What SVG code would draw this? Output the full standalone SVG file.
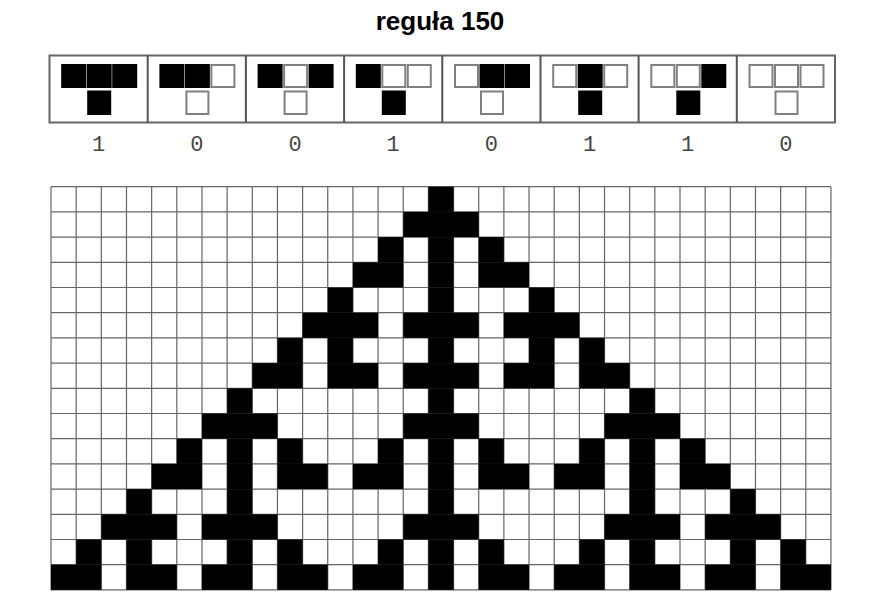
<svg xmlns="http://www.w3.org/2000/svg" width="886" height="604" viewBox="0 0 886 604">
<style>
.title{font-family:"Liberation Sans",Arial,sans-serif;font-weight:bold;font-size:26px;fill:#000}
.dig{font-family:"Liberation Mono","Courier New",monospace;font-size:22px;fill:#444;text-anchor:middle}
.b{fill:#000}
.w{fill:#fff;stroke:#808080;stroke-width:2}
.frame{fill:#fff;stroke:#666;stroke-width:2}
.div{stroke:#555;stroke-width:2}
.grid{fill:none;stroke:#666;stroke-width:1.2}
.cell{fill:#000}
</style>
<rect width="886" height="604" fill="#fff"/>
<text class="title" x="440" y="30" text-anchor="middle">reguła 150</text>

<g id="rules">
<rect class="frame" x="49.5" y="55.5" width="785.5" height="67"/>
<path class="div" d="M147.7 55.5V122.5M245.9 55.5V122.5M344.1 55.5V122.5M442.3 55.5V122.5M540.5 55.5V122.5M638.6 55.5V122.5M736.8 55.5V122.5"/>
<g id="p0" transform="translate(49.5 0)">
<rect class="b" x="11.7" y="64" width="25" height="24"/><rect class="b" x="37.2" y="64" width="25" height="24"/><rect class="b" x="62.7" y="64" width="25" height="24"/>
<rect class="b" x="37.7" y="90.5" width="24" height="24.5"/>
</g>
<g id="p1" transform="translate(147.7 0)">
<rect class="b" x="11.7" y="64" width="25" height="24"/><rect class="b" x="37.2" y="64" width="25" height="24"/><rect class="w" x="63.7" y="65" width="23" height="22"/>
<rect class="w" x="38.7" y="91.5" width="22" height="22.5"/>
</g>
<g id="p2" transform="translate(245.9 0)">
<rect class="b" x="11.7" y="64" width="25" height="24"/><rect class="w" x="38.2" y="65" width="23" height="22"/><rect class="b" x="62.7" y="64" width="25" height="24"/>
<rect class="w" x="38.7" y="91.5" width="22" height="22.5"/>
</g>
<g id="p3" transform="translate(344.1 0)">
<rect class="b" x="11.7" y="64" width="25" height="24"/><rect class="w" x="38.2" y="65" width="23" height="22"/><rect class="w" x="63.7" y="65" width="23" height="22"/>
<rect class="b" x="37.7" y="90.5" width="24" height="24.5"/>
</g>
<g id="p4" transform="translate(442.3 0)">
<rect class="w" x="12.7" y="65" width="23" height="22"/><rect class="b" x="37.2" y="64" width="25" height="24"/><rect class="b" x="62.7" y="64" width="25" height="24"/>
<rect class="w" x="38.7" y="91.5" width="22" height="22.5"/>
</g>
<g id="p5" transform="translate(540.5 0)">
<rect class="w" x="12.7" y="65" width="23" height="22"/><rect class="b" x="37.2" y="64" width="25" height="24"/><rect class="w" x="63.7" y="65" width="23" height="22"/>
<rect class="b" x="37.7" y="90.5" width="24" height="24.5"/>
</g>
<g id="p6" transform="translate(638.6 0)">
<rect class="w" x="12.7" y="65" width="23" height="22"/><rect class="w" x="38.2" y="65" width="23" height="22"/><rect class="b" x="62.7" y="64" width="25" height="24"/>
<rect class="b" x="37.7" y="90.5" width="24" height="24.5"/>
</g>
<g id="p7" transform="translate(736.8 0)">
<rect class="w" x="12.7" y="65" width="23" height="22"/><rect class="w" x="38.2" y="65" width="23" height="22"/><rect class="w" x="63.7" y="65" width="23" height="22"/>
<rect class="w" x="38.7" y="91.5" width="22" height="22.5"/>
</g>
</g>

<g id="outputs">
<text class="dig" x="98.6" y="151">1</text>
<text class="dig" x="196.8" y="151">0</text>
<text class="dig" x="295" y="151">0</text>
<text class="dig" x="393.2" y="151">1</text>
<text class="dig" x="491.4" y="151">0</text>
<text class="dig" x="589.6" y="151">1</text>
<text class="dig" x="687.7" y="151">1</text>
<text class="dig" x="785.9" y="151">0</text>
</g>

<g id="grid">
<path class="grid" d="M51 186.7V589.9M76.16 186.7V589.9M101.32 186.7V589.9M126.48 186.7V589.9M151.64 186.7V589.9M176.8 186.7V589.9M201.96 186.7V589.9M227.12 186.7V589.9M252.28 186.7V589.9M277.44 186.7V589.9M302.6 186.7V589.9M327.76 186.7V589.9M352.92 186.7V589.9M378.08 186.7V589.9M403.24 186.7V589.9M428.4 186.7V589.9M453.56 186.7V589.9M478.72 186.7V589.9M503.88 186.7V589.9M529.04 186.7V589.9M554.2 186.7V589.9M579.36 186.7V589.9M604.52 186.7V589.9M629.68 186.7V589.9M654.84 186.7V589.9M680 186.7V589.9M705.16 186.7V589.9M730.32 186.7V589.9M755.48 186.7V589.9M780.64 186.7V589.9M805.8 186.7V589.9M830.96 186.7V589.9
M51 186.7H830.96M51 211.9H830.96M51 237.1H830.96M51 262.3H830.96M51 287.5H830.96M51 312.7H830.96M51 337.9H830.96M51 363.1H830.96M51 388.3H830.96M51 413.5H830.96M51 438.7H830.96M51 463.9H830.96M51 489.1H830.96M51 514.3H830.96M51 539.5H830.96M51 564.7H830.96M51 589.9H830.96"/>
</g>

<g id="cells">
<rect class="cell" x="428.4" y="186.7" width="25.16" height="25.2"/>
<rect class="cell" x="403.24" y="211.9" width="75.48" height="25.2"/>
<rect class="cell" x="378.08" y="237.1" width="25.16" height="25.2"/><rect class="cell" x="428.4" y="237.1" width="25.16" height="25.2"/><rect class="cell" x="478.72" y="237.1" width="25.16" height="25.2"/>
<rect class="cell" x="352.92" y="262.3" width="50.32" height="25.2"/><rect class="cell" x="428.4" y="262.3" width="25.16" height="25.2"/><rect class="cell" x="478.72" y="262.3" width="50.32" height="25.2"/>
<rect class="cell" x="327.76" y="287.5" width="25.16" height="25.2"/><rect class="cell" x="428.4" y="287.5" width="25.16" height="25.2"/><rect class="cell" x="529.04" y="287.5" width="25.16" height="25.2"/>
<rect class="cell" x="302.6" y="312.7" width="75.48" height="25.2"/><rect class="cell" x="403.24" y="312.7" width="75.48" height="25.2"/><rect class="cell" x="503.88" y="312.7" width="75.48" height="25.2"/>
<rect class="cell" x="277.44" y="337.9" width="25.16" height="25.2"/><rect class="cell" x="327.76" y="337.9" width="25.16" height="25.2"/><rect class="cell" x="428.4" y="337.9" width="25.16" height="25.2"/><rect class="cell" x="529.04" y="337.9" width="25.16" height="25.2"/><rect class="cell" x="579.36" y="337.9" width="25.16" height="25.2"/>
<rect class="cell" x="252.28" y="363.1" width="50.32" height="25.2"/><rect class="cell" x="327.76" y="363.1" width="50.32" height="25.2"/><rect class="cell" x="403.24" y="363.1" width="75.48" height="25.2"/><rect class="cell" x="503.88" y="363.1" width="50.32" height="25.2"/><rect class="cell" x="579.36" y="363.1" width="50.32" height="25.2"/>
<rect class="cell" x="227.12" y="388.3" width="25.16" height="25.2"/><rect class="cell" x="428.4" y="388.3" width="25.16" height="25.2"/><rect class="cell" x="629.68" y="388.3" width="25.16" height="25.2"/>
<rect class="cell" x="201.96" y="413.5" width="75.48" height="25.2"/><rect class="cell" x="403.24" y="413.5" width="75.48" height="25.2"/><rect class="cell" x="604.52" y="413.5" width="75.48" height="25.2"/>
<rect class="cell" x="176.8" y="438.7" width="25.16" height="25.2"/><rect class="cell" x="227.12" y="438.7" width="25.16" height="25.2"/><rect class="cell" x="277.44" y="438.7" width="25.16" height="25.2"/><rect class="cell" x="378.08" y="438.7" width="25.16" height="25.2"/><rect class="cell" x="428.4" y="438.7" width="25.16" height="25.2"/><rect class="cell" x="478.72" y="438.7" width="25.16" height="25.2"/><rect class="cell" x="579.36" y="438.7" width="25.16" height="25.2"/><rect class="cell" x="629.68" y="438.7" width="25.16" height="25.2"/><rect class="cell" x="680" y="438.7" width="25.16" height="25.2"/>
<rect class="cell" x="151.64" y="463.9" width="50.32" height="25.2"/><rect class="cell" x="227.12" y="463.9" width="25.16" height="25.2"/><rect class="cell" x="277.44" y="463.9" width="50.32" height="25.2"/><rect class="cell" x="352.92" y="463.9" width="50.32" height="25.2"/><rect class="cell" x="428.4" y="463.9" width="25.16" height="25.2"/><rect class="cell" x="478.72" y="463.9" width="50.32" height="25.2"/><rect class="cell" x="554.2" y="463.9" width="50.32" height="25.2"/><rect class="cell" x="629.68" y="463.9" width="25.16" height="25.2"/><rect class="cell" x="680" y="463.9" width="50.32" height="25.2"/>
<rect class="cell" x="126.48" y="489.1" width="25.16" height="25.2"/><rect class="cell" x="227.12" y="489.1" width="25.16" height="25.2"/><rect class="cell" x="428.4" y="489.1" width="25.16" height="25.2"/><rect class="cell" x="629.68" y="489.1" width="25.16" height="25.2"/><rect class="cell" x="730.32" y="489.1" width="25.16" height="25.2"/>
<rect class="cell" x="101.32" y="514.3" width="75.48" height="25.2"/><rect class="cell" x="201.96" y="514.3" width="75.48" height="25.2"/><rect class="cell" x="403.24" y="514.3" width="75.48" height="25.2"/><rect class="cell" x="604.52" y="514.3" width="75.48" height="25.2"/><rect class="cell" x="705.16" y="514.3" width="75.48" height="25.2"/>
<rect class="cell" x="76.16" y="539.5" width="25.16" height="25.2"/><rect class="cell" x="126.48" y="539.5" width="25.16" height="25.2"/><rect class="cell" x="227.12" y="539.5" width="25.16" height="25.2"/><rect class="cell" x="277.44" y="539.5" width="25.16" height="25.2"/><rect class="cell" x="378.08" y="539.5" width="25.16" height="25.2"/><rect class="cell" x="428.4" y="539.5" width="25.16" height="25.2"/><rect class="cell" x="478.72" y="539.5" width="25.16" height="25.2"/><rect class="cell" x="579.36" y="539.5" width="25.16" height="25.2"/><rect class="cell" x="629.68" y="539.5" width="25.16" height="25.2"/><rect class="cell" x="730.32" y="539.5" width="25.16" height="25.2"/><rect class="cell" x="780.64" y="539.5" width="25.16" height="25.2"/>
<rect class="cell" x="51" y="564.7" width="50.32" height="25.2"/><rect class="cell" x="126.48" y="564.7" width="50.32" height="25.2"/><rect class="cell" x="201.96" y="564.7" width="50.32" height="25.2"/><rect class="cell" x="277.44" y="564.7" width="50.32" height="25.2"/><rect class="cell" x="352.92" y="564.7" width="50.32" height="25.2"/><rect class="cell" x="428.4" y="564.7" width="25.16" height="25.2"/><rect class="cell" x="478.72" y="564.7" width="50.32" height="25.2"/><rect class="cell" x="554.2" y="564.7" width="50.32" height="25.2"/><rect class="cell" x="629.68" y="564.7" width="50.32" height="25.2"/><rect class="cell" x="705.16" y="564.7" width="50.32" height="25.2"/><rect class="cell" x="780.64" y="564.7" width="50.32" height="25.2"/>
</g>
</svg>
